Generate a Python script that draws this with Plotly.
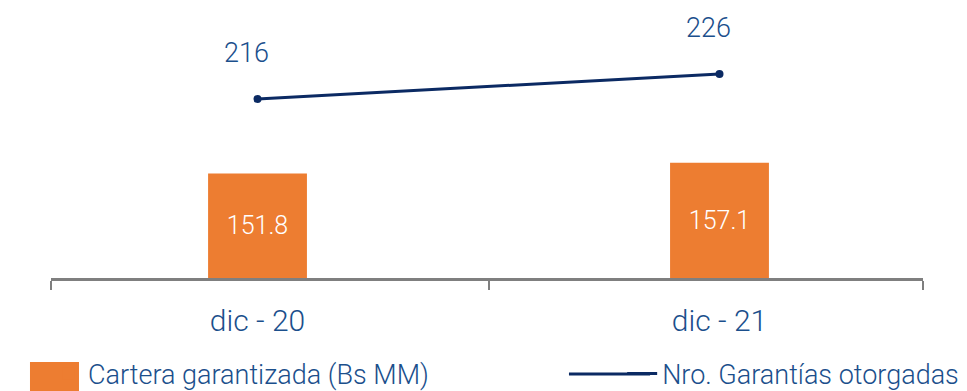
import plotly.graph_objects as go

categories = ["dic - 20", "dic - 21"]
cartera = [151.8, 157.1]          # Cartera garantizada (Bs MM)
garantias = [216, 226]            # Nro. Garantías otorgadas
bar_labels = ["151.8", "157.1"]
line_labels = ["216", "226"]

xpos = list(range(len(categories)))
Y_BASE = 99.5
TXT = "#1B4F8C"
ORANGE = "#ED7D31"
NAVY = "#0B2A63"
FONT = "Roboto"
W = 300
LEG_Y = -0.358

fig = go.Figure()
fig.add_trace(go.Bar(
    x=xpos, y=[v - Y_BASE for v in cartera], base=Y_BASE,
    width=0.214, marker=dict(color=ORANGE, line=dict(width=0)),
    name="Cartera garantizada (Bs MM)",
    text=bar_labels, textposition="inside", insidetextanchor="middle",
    textfont=dict(color="white", size=25, family=FONT, weight=W),
    legend="legend", hoverinfo="skip",
))
fig.add_trace(go.Scatter(
    x=xpos, y=garantias, yaxis="y2", mode="lines+markers",
    line=dict(color=NAVY, width=3), marker=dict(size=8, color=NAVY),
    name="Nro. Garantías otorgadas", showlegend=False,
))
# legend entry for the line (line only, as in the reference)
fig.add_trace(go.Scatter(
    x=[None], y=[None], yaxis="y2", mode="lines",
    line=dict(color=NAVY, width=3),
    name="Nro. Garantías otorgadas", legend="legend2",
))

for xi, v, t in zip(xpos, garantias, line_labels):
    fig.add_annotation(x=xi, y=v, yref="y2", text=t, showarrow=False,
                       xshift=-11, yshift=46,
                       font=dict(size=27, color=TXT, family=FONT, weight=W))

# larger legend swatches like the reference
fig.add_shape(type="rect", xref="paper", yref="paper",
              x0=-0.0241, x1=0.0321, y0=-0.45, y1=-0.313,
              fillcolor=ORANGE, line_width=0, layer="above")
fig.add_shape(type="line", xref="paper", yref="paper",
              x0=0.594, x1=0.687, y0=LEG_Y, y1=LEG_Y,
              line=dict(color=NAVY, width=3))

xmin, xmax = -0.447, 1.4405
fig.update_layout(
    width=959, height=383,
    margin=dict(l=43, r=44, t=2, b=113, autoexpand=False),
    plot_bgcolor="white", paper_bgcolor="white",
    font=dict(family=FONT, color=TXT, weight=W),
    xaxis=dict(range=[xmin, xmax], tickmode="array", tickvals=xpos,
               ticktext=categories, ticks="", showgrid=False, zeroline=False,
               showline=True, linecolor="#7F7F7F", linewidth=3,
               tickfont=dict(size=30, color=TXT, family=FONT, weight=W),
               ticklabelstandoff=14,
               minor=dict(tickmode="array", tickvals=[xmin, 0.5, xmax],
                          ticks="outside", ticklen=9, tickwidth=2,
                          tickcolor="#7F7F7F", showgrid=False)),
    yaxis=dict(range=[Y_BASE, Y_BASE + 134], visible=False, showgrid=False),
    yaxis2=dict(range=[144.4, 251.6], overlaying="y", visible=False, showgrid=False),
    legend=dict(orientation="h", x=-0.0034, xanchor="left", y=LEG_Y, yanchor="middle",
                font=dict(size=27, color=TXT, family=FONT, weight=W), bgcolor="rgba(0,0,0,0)"),
    legend2=dict(orientation="h", x=0.655, xanchor="left", y=LEG_Y, yanchor="middle",
                 font=dict(size=27, color=TXT, family=FONT, weight=W), bgcolor="rgba(0,0,0,0)"),
    showlegend=True,
)

fig.write_html("out.html")
